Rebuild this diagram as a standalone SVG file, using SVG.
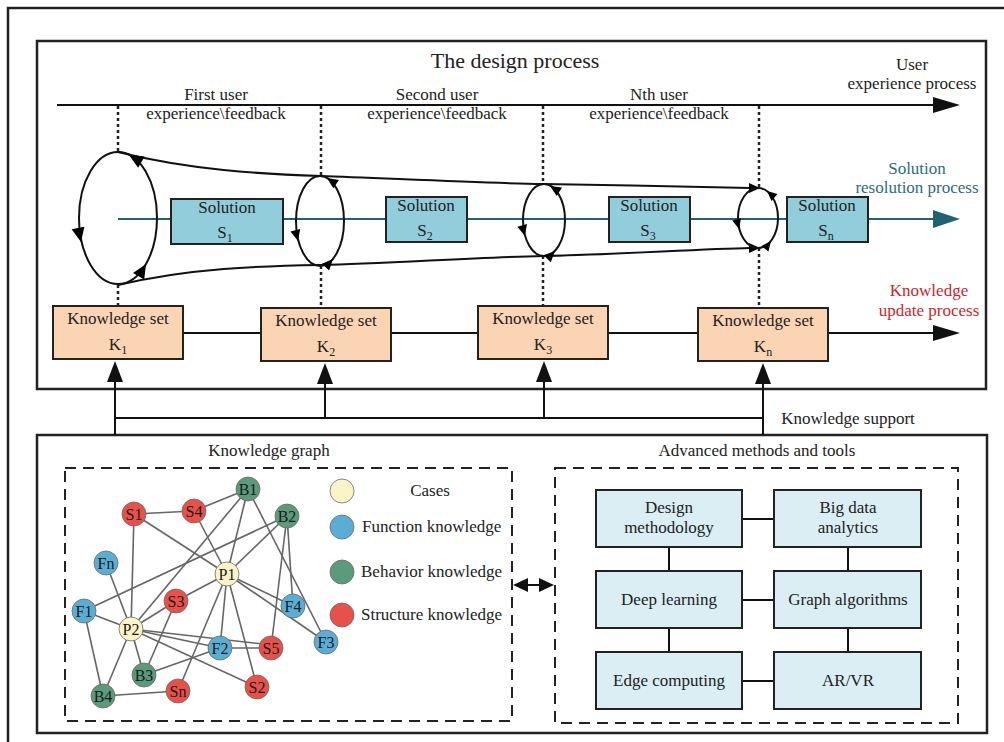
<svg xmlns="http://www.w3.org/2000/svg" width="1004" height="742" viewBox="0 0 1004 742">
<defs>
<style>
text{font-family:"Liberation Serif","Times New Roman",serif;font-size:17px;fill:#222;}
.c{text-anchor:middle;}
.frame{fill:none;stroke:#222;stroke-width:2.5;}
.ln{fill:none;stroke:#111;stroke-width:2;}
.dot{fill:none;stroke:#222;stroke-width:2.5;stroke-dasharray:3,3;}
.dash{fill:none;stroke:#222;stroke-width:2;stroke-dasharray:11,7;}
.sol{fill:#92cddc;stroke:#222;stroke-width:2;}
.ks{fill:#fbd4b4;stroke:#222;stroke-width:2;}
.tool{fill:#daeef3;stroke:#222;stroke-width:2;}
.ah{fill:#111;}
.edge{stroke:#666;stroke-width:1.6;fill:none;}
.nd{stroke:#6a6a6a;stroke-width:0.8;}
.case{fill:#fdf3c8;}
.fun{fill:#5aaed6;}
.beh{fill:#5b9b7b;}
.str{fill:#e8514a;}
.nt{font-size:16px;text-anchor:middle;fill:#1a1a1a;}
.sub{font-size:12px;}
</style>
<path id="tri" d="M0,0 L-11,-5 L-11,5 Z"/>
</defs>

<!-- outer frame -->
<path class="frame" d="M1004,8 H8 V742"/>

<!-- top box -->
<g id="design-process">
<rect class="frame" x="37" y="41" width="949" height="348"/>
<text class="c" x="515" y="68" style="font-size:22px">The design process</text>
</g>

<!-- bottom box -->
<g id="support-box">
<rect class="frame" x="37" y="435" width="950" height="298"/>
<text class="c" x="269" y="456">Knowledge graph</text>
<text class="c" x="757" y="456">Advanced methods and tools</text>
<rect class="dash" x="65" y="468" width="447" height="253"/>
<rect class="dash" x="555" y="468" width="403" height="255"/>
</g>

<g id="connectors">
<!-- user experience line -->
<line class="ln" x1="57" y1="105" x2="936" y2="105"/>
<polygon class="ah" points="933,97 960,105 933,113"/>
<!-- dotted verticals -->
<line class="dot" x1="118" y1="106" x2="118" y2="152"/>
<line class="dot" x1="118" y1="285" x2="118" y2="306"/>
<line class="dot" x1="321" y1="106" x2="321" y2="176"/>
<line class="dot" x1="321" y1="266" x2="321" y2="308"/>
<line class="dot" x1="543" y1="106" x2="543" y2="184"/>
<line class="dot" x1="543" y1="256" x2="543" y2="306"/>
<line class="dot" x1="759" y1="106" x2="759" y2="188"/>
<line class="dot" x1="759" y1="248" x2="759" y2="308"/>
<!-- teal solution line -->
<line x1="118" y1="219" x2="936" y2="219" stroke="#1f6373" stroke-width="2"/>
<polygon points="933,210 960,219 933,228" fill="#1f6373"/>
<!-- funnel curves -->
<path class="ln" d="M118,152 C190,170 260,174 321,176 S480,183 543,184 S700,187 750,188"/>
<use href="#tri" transform="translate(760,188)"/>
<path class="ln" d="M118,285 C190,268 260,266 321,265 S480,257 543,256 S700,249 750,248"/>
<use href="#tri" transform="translate(760,248)"/>
<!-- loops -->
<ellipse class="ln" cx="118" cy="218" rx="39" ry="66"/>
<use href="#tri" transform="translate(129,155) rotate(-150) scale(1.3)"/>
<use href="#tri" transform="translate(81,242) rotate(78) scale(1.3)"/>
<use href="#tri" transform="translate(146,264) rotate(-59) scale(1.3)"/>
<ellipse class="ln" cx="320" cy="221" rx="24" ry="45"/>
<use href="#tri" transform="translate(327,178) rotate(-146)"/>
<use href="#tri" transform="translate(298,241) rotate(76)"/>
<use href="#tri" transform="translate(333,259) rotate(-47)"/>
<ellipse class="ln" cx="544" cy="220" rx="21" ry="36"/>
<use href="#tri" transform="translate(550,186) rotate(-148)"/>
<use href="#tri" transform="translate(525,236) rotate(75)"/>
<use href="#tri" transform="translate(555,251) rotate(-45)"/>
<ellipse class="ln" cx="758" cy="218" rx="20" ry="30"/>
<use href="#tri" transform="translate(767,191) rotate(-139) scale(0.9)"/>
<use href="#tri" transform="translate(739,229) rotate(76) scale(0.9)"/>
<use href="#tri" transform="translate(771,241) rotate(-52) scale(0.9)"/>
<!-- knowledge update line -->
<line class="ln" x1="183" y1="333" x2="261" y2="333"/>
<line class="ln" x1="391" y1="333" x2="478" y2="333"/>
<line class="ln" x1="608" y1="333" x2="698" y2="333"/>
<line class="ln" x1="828" y1="333" x2="936" y2="333"/>
<polygon class="ah" points="933,325 960,333 933,341"/>
<!-- knowledge support -->
<line class="ln" x1="115" y1="418" x2="763" y2="418"/>
<line class="ln" x1="115" y1="435" x2="115" y2="378"/>
<line class="ln" x1="325" y1="418" x2="325" y2="380"/>
<line class="ln" x1="544" y1="418" x2="544" y2="378"/>
<line class="ln" x1="763" y1="435" x2="763" y2="380"/>
<polygon class="ah" points="107,382 115,361 123,382"/>
<polygon class="ah" points="317,384 325,363 333,384"/>
<polygon class="ah" points="536,382 544,361 552,382"/>
<polygon class="ah" points="755,384 763,363 771,384"/>
<!-- double arrow -->
<line class="ln" x1="522" y1="585" x2="546" y2="585"/>
<polygon class="ah" points="513,585 528,578 528,592"/>
<polygon class="ah" points="554,585 539,578 539,592"/>
<!-- tool links -->
<line class="ln" x1="742" y1="519" x2="774" y2="519"/>
<line class="ln" x1="742" y1="600" x2="774" y2="600"/>
<line class="ln" x1="742" y1="681" x2="774" y2="681"/>
<line class="ln" x1="669" y1="547" x2="669" y2="571"/>
<line class="ln" x1="669" y1="628" x2="669" y2="652"/>
<line class="ln" x1="848" y1="547" x2="848" y2="571"/>
<line class="ln" x1="848" y1="628" x2="848" y2="652"/>
<!-- graph edges -->
<g class="edge">
<line x1="134" y1="514" x2="194" y2="511"/>
<line x1="194" y1="511" x2="248" y2="489"/>
<line x1="134" y1="514" x2="227" y2="574"/>
<line x1="134" y1="514" x2="131" y2="629"/>
<line x1="194" y1="511" x2="227" y2="574"/>
<line x1="248" y1="489" x2="227" y2="574"/>
<line x1="248" y1="489" x2="131" y2="629"/>
<line x1="248" y1="489" x2="326" y2="642"/>
<line x1="287" y1="516" x2="227" y2="574"/>
<line x1="287" y1="516" x2="84" y2="611"/>
<line x1="287" y1="516" x2="293" y2="606"/>
<line x1="287" y1="516" x2="271" y2="648"/>
<line x1="106" y1="563" x2="131" y2="629"/>
<line x1="84" y1="611" x2="131" y2="629"/>
<line x1="84" y1="611" x2="103" y2="696"/>
<line x1="227" y1="574" x2="176" y2="601"/>
<line x1="227" y1="574" x2="293" y2="606"/>
<line x1="227" y1="574" x2="326" y2="642"/>
<line x1="227" y1="574" x2="220" y2="648"/>
<line x1="227" y1="574" x2="257" y2="687"/>
<line x1="227" y1="574" x2="178" y2="691"/>
<line x1="131" y1="629" x2="176" y2="601"/>
<line x1="131" y1="629" x2="220" y2="648"/>
<line x1="131" y1="629" x2="271" y2="645"/>
<line x1="131" y1="629" x2="257" y2="687"/>
<line x1="131" y1="629" x2="144" y2="675"/>
<line x1="131" y1="629" x2="103" y2="696"/>
<line x1="176" y1="601" x2="144" y2="675"/>
<line x1="220" y1="648" x2="144" y2="675"/>
<line x1="220" y1="648" x2="271" y2="648"/>
<line x1="103" y1="696" x2="178" y2="691"/>
</g>
</g>

<!-- process labels -->
<g id="labels">
<text class="c" x="912" y="70">User</text>
<text class="c" x="912" y="89">experience process</text>
<text class="c" x="216" y="100">First user</text>
<text class="c" x="216" y="119">experience\feedback</text>
<text class="c" x="437" y="100">Second user</text>
<text class="c" x="437" y="119">experience\feedback</text>
<text class="c" x="659" y="100">Nth user</text>
<text class="c" x="659" y="119">experience\feedback</text>
<text class="c" x="917" y="174" style="fill:#2e6c7b">Solution</text>
<text class="c" x="917" y="193" style="fill:#2e6c7b">resolution process</text>
<text class="c" x="929" y="296" style="fill:#cc1f2c">Knowledge</text>
<text class="c" x="929" y="316" style="fill:#cc1f2c">update process</text>
<text class="c" x="848" y="424">Knowledge support</text>
</g>

<!-- solutions -->
<g id="S1"><rect class="sol" x="171" y="199" width="112" height="45"/>
<text class="c" x="227" y="213">Solution</text><text class="c" x="225" y="238">S<tspan class="sub" dy="4">1</tspan></text></g>
<g id="S2"><rect class="sol" x="386" y="197" width="81" height="45"/>
<text class="c" x="426" y="211">Solution</text><text class="c" x="425" y="236">S<tspan class="sub" dy="4">2</tspan></text></g>
<g id="S3"><rect class="sol" x="609" y="197" width="81" height="45"/>
<text class="c" x="649" y="211">Solution</text><text class="c" x="648" y="236">S<tspan class="sub" dy="4">3</tspan></text></g>
<g id="Sn"><rect class="sol" x="787" y="197" width="81" height="45"/>
<text class="c" x="827" y="211">Solution</text><text class="c" x="826" y="236">S<tspan class="sub" dy="4">n</tspan></text></g>

<!-- knowledge sets -->
<g id="K1"><rect class="ks" x="53" y="306" width="130" height="53"/>
<text class="c" x="118" y="324">Knowledge set</text><text class="c" x="118" y="350">K<tspan class="sub" dy="4">1</tspan></text></g>
<g id="K2"><rect class="ks" x="261" y="308" width="130" height="53"/>
<text class="c" x="326" y="326">Knowledge set</text><text class="c" x="326" y="352">K<tspan class="sub" dy="4">2</tspan></text></g>
<g id="K3"><rect class="ks" x="478" y="306" width="130" height="53"/>
<text class="c" x="543" y="324">Knowledge set</text><text class="c" x="543" y="350">K<tspan class="sub" dy="4">3</tspan></text></g>
<g id="Kn"><rect class="ks" x="698" y="308" width="130" height="53"/>
<text class="c" x="763" y="326">Knowledge set</text><text class="c" x="763" y="352">K<tspan class="sub" dy="4">n</tspan></text></g>

<!-- tools -->
<g id="design-methodology"><rect class="tool" x="596" y="490" width="146" height="57"/>
<text class="c" x="669" y="513">Design</text><text class="c" x="669" y="533">methodology</text></g>
<g id="big-data"><rect class="tool" x="774" y="490" width="147" height="57"/>
<text class="c" x="848" y="513">Big data</text><text class="c" x="848" y="533">analytics</text></g>
<g id="deep-learning"><rect class="tool" x="596" y="571" width="146" height="57"/>
<text class="c" x="669" y="605">Deep learning</text></g>
<g id="graph-algorithms"><rect class="tool" x="774" y="571" width="147" height="57"/>
<text class="c" x="848" y="605">Graph algorithms</text></g>
<g id="edge-computing"><rect class="tool" x="596" y="652" width="146" height="57"/>
<text class="c" x="669" y="686">Edge computing</text></g>
<g id="ar-vr"><rect class="tool" x="774" y="652" width="147" height="57"/>
<text class="c" x="848" y="686">AR/VR</text></g>

<!-- graph nodes -->
<g id="n-B1"><circle class="nd beh" cx="248" cy="489" r="12"/><text class="nt" x="248" y="495">B1</text></g>
<g id="n-S1"><circle class="nd str" cx="134" cy="514" r="12"/><text class="nt" x="134" y="520">S1</text></g>
<g id="n-S4"><circle class="nd str" cx="194" cy="511" r="12"/><text class="nt" x="194" y="517">S4</text></g>
<g id="n-B2"><circle class="nd beh" cx="287" cy="516" r="12"/><text class="nt" x="287" y="522">B2</text></g>
<g id="n-Fn"><circle class="nd fun" cx="106" cy="563" r="12"/><text class="nt" x="106" y="569">Fn</text></g>
<g id="n-P1"><circle class="nd case" cx="227" cy="574" r="12"/><text class="nt" x="227" y="580">P1</text></g>
<g id="n-F1"><circle class="nd fun" cx="84" cy="611" r="12"/><text class="nt" x="84" y="617">F1</text></g>
<g id="n-S3"><circle class="nd str" cx="176" cy="601" r="12"/><text class="nt" x="176" y="607">S3</text></g>
<g id="n-F4"><circle class="nd fun" cx="293" cy="606" r="12"/><text class="nt" x="293" y="612">F4</text></g>
<g id="n-P2"><circle class="nd case" cx="131" cy="629" r="12"/><text class="nt" x="131" y="635">P2</text></g>
<g id="n-F2"><circle class="nd fun" cx="220" cy="648" r="12"/><text class="nt" x="220" y="654">F2</text></g>
<g id="n-S5"><circle class="nd str" cx="271" cy="648" r="12"/><text class="nt" x="271" y="654">S5</text></g>
<g id="n-F3"><circle class="nd fun" cx="326" cy="642" r="12"/><text class="nt" x="326" y="648">F3</text></g>
<g id="n-B3"><circle class="nd beh" cx="144" cy="675" r="12"/><text class="nt" x="144" y="681">B3</text></g>
<g id="n-Sn"><circle class="nd str" cx="178" cy="691" r="12"/><text class="nt" x="178" y="697">Sn</text></g>
<g id="n-S2"><circle class="nd str" cx="257" cy="687" r="12"/><text class="nt" x="257" y="693">S2</text></g>
<g id="n-B4"><circle class="nd beh" cx="103" cy="696" r="12"/><text class="nt" x="103" y="702">B4</text></g>

<!-- legend -->
<g id="legend">
<circle class="nd case" cx="342" cy="491" r="12"/><text class="c" x="430" y="496">Cases</text>
<circle class="nd fun" cx="342" cy="527" r="12"/><text x="362" y="532">Function knowledge</text>
<circle class="nd beh" cx="342" cy="572" r="12"/><text x="361" y="577">Behavior knowledge</text>
<circle class="nd str" cx="342" cy="615" r="12"/><text x="361" y="620">Structure knowledge</text>
</g>
</svg>
